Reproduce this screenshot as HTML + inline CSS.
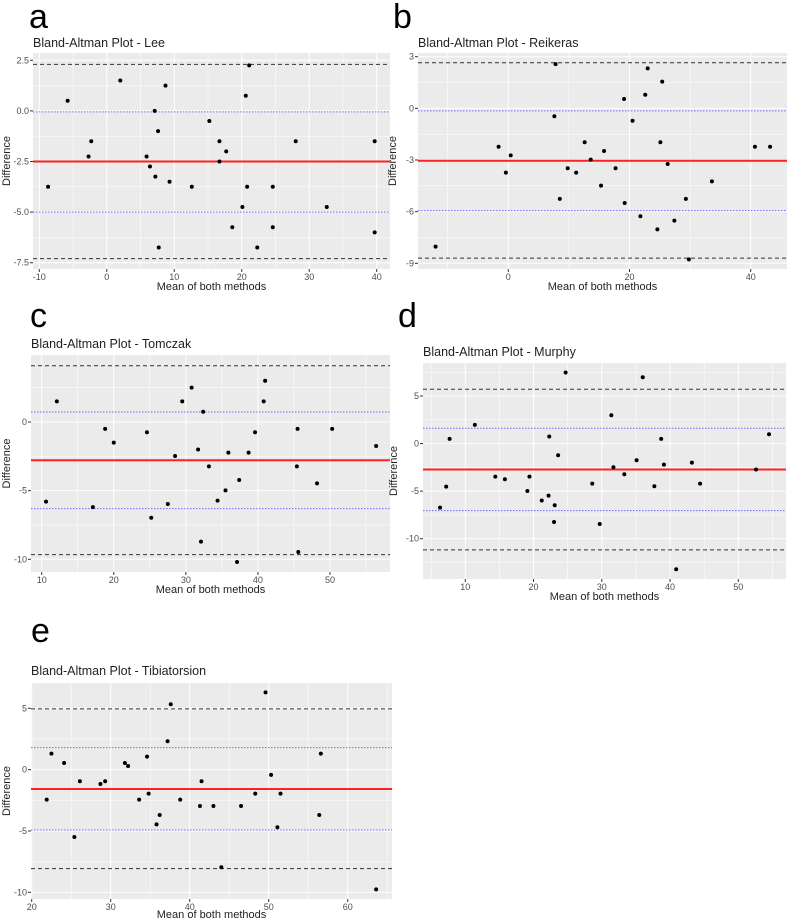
<!DOCTYPE html>
<html><head><meta charset="utf-8"><style>
html,body{margin:0;background:#fff;width:789px;height:924px;overflow:hidden;font-family:"Liberation Sans",sans-serif}
svg{position:absolute;left:0;top:0;display:block}
</style></head><body>
<svg id="fig" width="789" height="924"></svg>
<script>
// Panel a - Lee
const aX=[-8.7,-5.8,2,-2.7,-2.3,5.9,6.4,7.1,7.2,7.6,7.7,8.7,9.3,12.6,15.2,16.7,16.7,17.7,18.6,20.1,20.6,20.8,21.1,22.3,24.6,24.6,28,32.6,39.7,39.7];
const aY=[-3.75,0.5,1.5,-2.25,-1.5,-2.25,-2.75,0,-3.25,-1,-6.75,1.25,-3.5,-3.75,-0.5,-1.5,-2.5,-2,-5.75,-4.75,0.75,-3.75,2.25,-6.75,-3.75,-5.75,-1.5,-4.75,-1.5,-6];
const aLines=[2.3,-0.05,-2.5,-5,-7.3];
const aXTicks=[-10,0,10,20,30,40];const aYTicks=[2.5,0,-2.5,-5,-7.5];const aYLabels=["2.5","0.0","-2.5","-5.0","-7.5"];
// Panel b - Reikeras
const bX=[-12,-1.6,-0.4,0.4,7.6,7.8,8.5,9.8,11.2,12.6,13.6,15.3,15.8,17.7,19.1,19.2,20.5,21.8,22.6,23,24.6,25.1,25.4,26.3,27.4,29.3,29.8,33.6,40.7,43.2];
const bY=[-8.03,-2.23,-3.73,-2.73,-0.46,2.57,-5.26,-3.48,-3.73,-1.97,-2.98,-4.49,-2.48,-3.48,0.54,-5.5,-0.72,-6.27,0.79,2.32,-7.03,-1.97,1.55,-3.23,-6.52,-5.26,-8.77,-4.24,-2.23,-2.23];
const bLines=[2.65,-0.15,-3.04,-5.94,-8.7];
const bXTicks=[0,20,40];const bYTicks=[3,0,-3,-6,-9];const bYLabels=["3","0","-3","-6","-9"];
// Panel c - Tomczak
const cX=[10.6,12.1,17.1,18.8,20,24.6,25.2,27.5,28.5,29.5,30.8,31.7,32.1,32.4,33.2,34.4,35.5,35.9,37.1,37.4,38.7,39.6,40.8,41,45.4,45.5,45.6,48.2,50.3,56.4];
const cY=[-5.8,1.5,-6.2,-0.5,-1.5,-0.75,-6.97,-5.97,-2.48,1.5,2.5,-2,-8.71,0.75,-3.23,-5.73,-4.98,-2.23,-10.2,-4.22,-2.23,-0.75,1.5,3,-3.23,-0.5,-9.47,-4.47,-0.5,-1.75];
const cLines=[4.1,0.73,-2.79,-6.31,-9.66];
const cXTicks=[10,20,30,40,50];const cYTicks=[0,-5,-10];const cYLabels=["0","-5","-10"];
// Panel d - Murphy
const dX=[6.3,7.2,7.7,11.4,14.4,15.8,19.1,19.4,21.2,22.2,22.3,23.1,23,23.6,24.7,28.6,29.7,31.4,31.7,33.3,35.1,36,37.7,38.7,39.1,40.9,43.2,44.4,52.6,54.5];
const dY=[-6.73,-4.52,0.49,1.96,-3.47,-3.75,-4.98,-3.47,-5.99,-5.47,0.74,-6.48,-8.24,-1.23,7.47,-4.21,-8.45,2.98,-2.49,-3.22,-1.75,6.97,-4.49,0.49,-2.21,-13.21,-2,-4.21,-2.73,0.98];
const dLines=[5.71,1.61,-2.73,-7.05,-11.18];
const dXTicks=[10,20,30,40,50];const dYTicks=[5,0,-5,-10];const dYLabels=["5","0","-5","-10"];
// Panel e - Tibiatorsion
const eX=[21.9,22.5,24.1,25.4,26.1,28.7,29.3,31.8,32.2,33.6,34.6,34.8,35.8,36.2,37.2,37.6,38.8,41.3,41.5,43,44,46.5,48.3,49.6,50.3,51.1,51.5,56.4,56.6,63.6];
const eY=[-2.45,1.3,0.54,-5.49,-0.95,-1.17,-0.95,0.54,0.3,-2.45,1.06,-1.96,-4.46,-3.7,2.31,5.33,-2.45,-2.96,-0.95,-2.96,-7.96,-2.96,-1.96,6.3,-0.43,-4.7,-1.96,-3.7,1.3,-9.76];
const eLines=[4.95,1.79,-1.58,-4.92,-8.07];
const eXTicks=[20,30,40,50,60];const eYTicks=[5,0,-5,-10];const eYLabels=["5","0","-5","-10"];

const NS="http://www.w3.org/2000/svg";
const svg=document.getElementById('fig');
function mk(tag,attrs,parent){const e=document.createElementNS(NS,tag);for(const k in attrs)e.setAttribute(k,attrs[k]);(parent||svg).appendChild(e);return e;}
function panel(id,letter,title,P,xs,ys,lines,xT,yT,yL){
  const g=mk('g',{});
  
  
  const sx=v=>P.x0px+(v-P.x0)*(P.x1px-P.x0px)/(P.x1-P.x0);
  const sy=v=>P.y0px+(v-P.y0)*(P.y1px-P.y0px)/(P.y1-P.y0);
  const L=mk('text',{x:P.lx,y:P.ly,'font-size':34,fill:'#000'},g);L.textContent=letter;
  
  
  const T=mk('text',{x:P.L,y:P.ty,'font-size':12.5,fill:'#222'},g);T.textContent=title;
  
  
  const bg=mk('rect',{x:P.L,y:P.T,width:P.R-P.L,height:P.B-P.T,fill:'#ebebeb'},g);
  
  
  const inner=mk('g',{},g);
  const xs1=xT[1]-xT[0], ys1=yT[0]-yT[1];
  for(let v=xT[0]-xs1*2;v<=xT[xT.length-1]+xs1*2;v+=xs1/2){const X=sx(v);if(X<P.L||X>P.R)continue;const major=xT.includes(v);mk('line',{x1:X,x2:X,y1:P.T,y2:P.B,stroke:'#fff','stroke-width':major?1:0.5},inner);}
  for(let v=yT[0]+ys1*2;v>=yT[yT.length-1]-ys1*2;v-=ys1/2){const Y=sy(v);if(Y<P.T||Y>P.B)continue;const major=yT.includes(v);mk('line',{x1:P.L,x2:P.R,y1:Y,y2:Y,stroke:'#fff','stroke-width':major?1:0.5},inner);}
  const styles=[{s:'#333',d:'4,3',w:1},{s:'#6b6bff',d:'1.5,1.5',w:1},{s:'#ff2020',d:'',w:2},{s:'#6b6bff',d:'1.5,1.5',w:1},{s:'#333',d:'4,3',w:1}];
  const names=['upper-loa','upper-ci','mean-difference','lower-ci','lower-loa'];
  lines.forEach((v,i)=>{const l=mk('line',{x1:P.L,x2:P.R,y1:sy(v),y2:sy(v),stroke:styles[i].s,'stroke-width':styles[i].w,'stroke-dasharray':styles[i].d},inner);
    
    });
  xs.forEach((v,i)=>{const c=mk('circle',{cx:sx(v),cy:sy(ys[i]),r:2,fill:'#000'},inner);
    
    });
  xT.forEach(v=>{const X=sx(v);mk('line',{x1:X,x2:X,y1:P.B,y2:P.B+3,stroke:'#333'},g);
    const t=mk('text',{x:X,y:P.B+11,'font-size':9,fill:'#4d4d4d','text-anchor':'middle'},g);t.textContent=v;
    
    });
  yT.forEach((v,i)=>{const Y=sy(v);mk('line',{x1:P.L-3,x2:P.L,y1:Y,y2:Y,stroke:'#333'},g);
    const t=mk('text',{x:P.L-4,y:Y+3,'font-size':9,fill:'#4d4d4d','text-anchor':'end'},g);t.textContent=yL[i];
    
    });
  const xt=mk('text',{x:(P.L+P.R)/2,y:P.B+(P.xtOff||21),'font-size':11,fill:'#222','text-anchor':'middle'},g);xt.textContent='Mean of both methods';
  
  
  const cy=(P.T+P.B)/2;
  const yt=mk('text',{x:P.yx,y:cy,'font-size':11,fill:'#222','text-anchor':'middle',transform:'rotate(-90 '+P.yx+' '+cy+')'},g);yt.textContent='Difference';
  
  
}
panel('a','a','Bland-Altman Plot - Lee',{L:33,R:390,T:53,B:269,x0:-10,x1:40,x0px:39.3,x1px:376.7,y0:2.5,y1:-7.5,y0px:60.3,y1px:262.7,lx:29,ly:28,ty:47,yx:10},aX,aY,aLines,aXTicks,aYTicks,aYLabels);
panel('b','b','Bland-Altman Plot - Reikeras',{L:418,R:787,T:53,B:269,x0:0,x1:40,x0px:508.3,x1px:750.7,y0:3,y1:-9,y0px:56.7,y1px:263.3,lx:393,ly:28,ty:47,yx:396},bX,bY,bLines,bXTicks,bYTicks,bYLabels);
panel('c','c','Bland-Altman Plot - Tomczak',{L:31,R:390,T:355,B:572,x0:10,x1:50,x0px:41.7,x1px:330,y0:0,y1:-10,y0px:422,y1px:559.3,lx:30,ly:327,ty:348,yx:10},cX,cY,cLines,cXTicks,cYTicks,cYLabels);
panel('d','d','Bland-Altman Plot - Murphy',{L:423,R:786,T:363,B:579,x0:10,x1:50,x0px:465.3,x1px:738.3,y0:5,y1:-10,y0px:396,y1px:538.7,lx:398,ly:327,ty:356,yx:397},dX,dY,dLines,dXTicks,dYTicks,dYLabels);
panel('e','e','Bland-Altman Plot - Tibiatorsion',{L:31,R:392,T:683,B:899,x0:20,x1:60,x0px:31.7,x1px:347.7,y0:5,y1:-10,y0px:708.3,y1px:892.3,lx:31,ly:642,ty:675,yx:10,xtOff:19},eX,eY,eLines,eXTicks,eYTicks,eYLabels);
</script>
</body></html>
